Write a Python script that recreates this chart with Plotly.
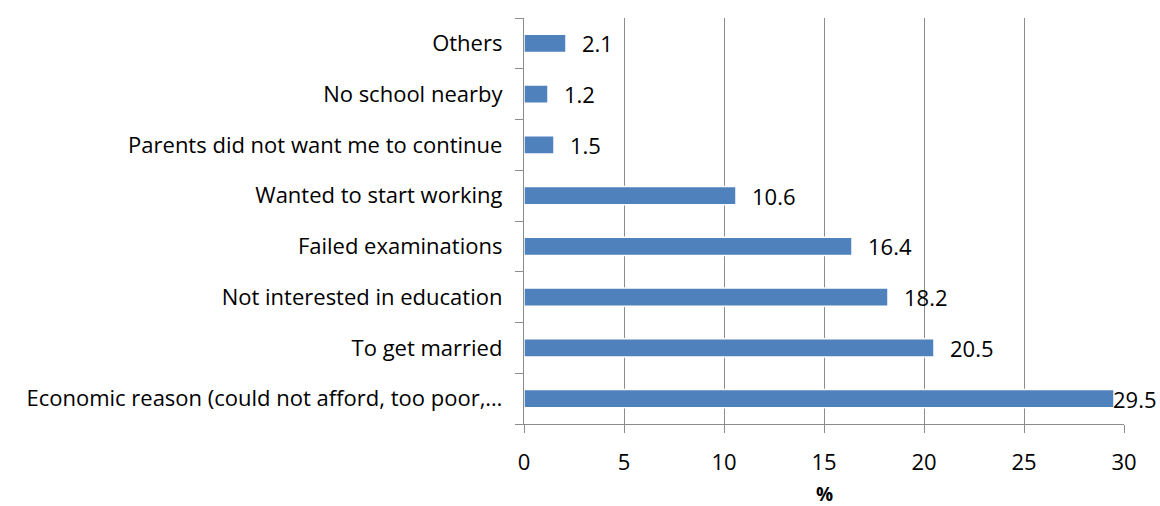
import plotly.graph_objects as go

# Reasons for leaving school, share of respondents (%)
reasons = [
    "Economic reason (could not afford, too poor,…",
    "To get married",
    "Not interested in education",
    "Failed examinations",
    "Wanted to start working",
    "Parents did not want me to continue",
    "No school nearby",
    "Others",
]
percent = [29.5, 20.5, 18.2, 16.4, 10.6, 1.5, 1.2, 2.1]
x_ticks = [0, 5, 10, 15, 20, 25, 30]

FONT = "Open Sans"
SIZE = 22
BAR = "#4F81BD"
GRID = "#8C8C8C"

fig = go.Figure()
fig.add_trace(go.Bar(
    y=reasons,
    x=percent,
    orientation="h",
    marker=dict(color=BAR, line=dict(color="white", width=1.5)),
    width=0.36,
    hoverinfo="x+y",
))

# value labels to the right of each bar end
for r, v in zip(reasons, percent):
    near_edge = v > 28
    fig.add_annotation(
        x=v, y=r, text=f"{v:.1f}", showarrow=False,
        xanchor="left", yanchor="middle",
        xshift=-3 if near_edge else 14,
        font=dict(family=FONT, size=SIZE, color="#000000"),
    )

# x-axis title, placed below the tick labels
fig.add_annotation(
    x=0.5, y=0, xref="paper", yref="paper", text="<b>%</b>", showarrow=False,
    xanchor="center", yanchor="middle", yshift=-70,
    font=dict(family=FONT, size=19, color="#000000"),
)

fig.update_layout(
    width=1160, height=506,
    margin=dict(l=524, r=36, t=18, b=82),
    paper_bgcolor="white", plot_bgcolor="white",
    showlegend=False,
    font=dict(family=FONT, size=SIZE, color="#000000"),
    xaxis=dict(
        range=[0, 30], tickvals=x_ticks, ticktext=[str(t) for t in x_ticks],
        showgrid=True, gridcolor=GRID, gridwidth=1.3,
        zeroline=False, showline=True, linecolor=GRID, linewidth=1.3,
        ticks="outside", ticklen=8, tickcolor=GRID,
        tickfont=dict(family=FONT, size=SIZE),
        ticklabelstandoff=10,
        automargin=False,
        fixedrange=True,
    ),
    yaxis=dict(
        categoryorder="array", categoryarray=reasons,
        showgrid=False, showline=True, linecolor=GRID, linewidth=1.3,
        ticks="outside", ticklen=8, tickcolor=GRID, tickson="boundaries",
        tickfont=dict(family=FONT, size=SIZE),
        ticklabelstandoff=16,
        automargin=False,
        fixedrange=True,
    ),
)

fig.write_html("out.html")
